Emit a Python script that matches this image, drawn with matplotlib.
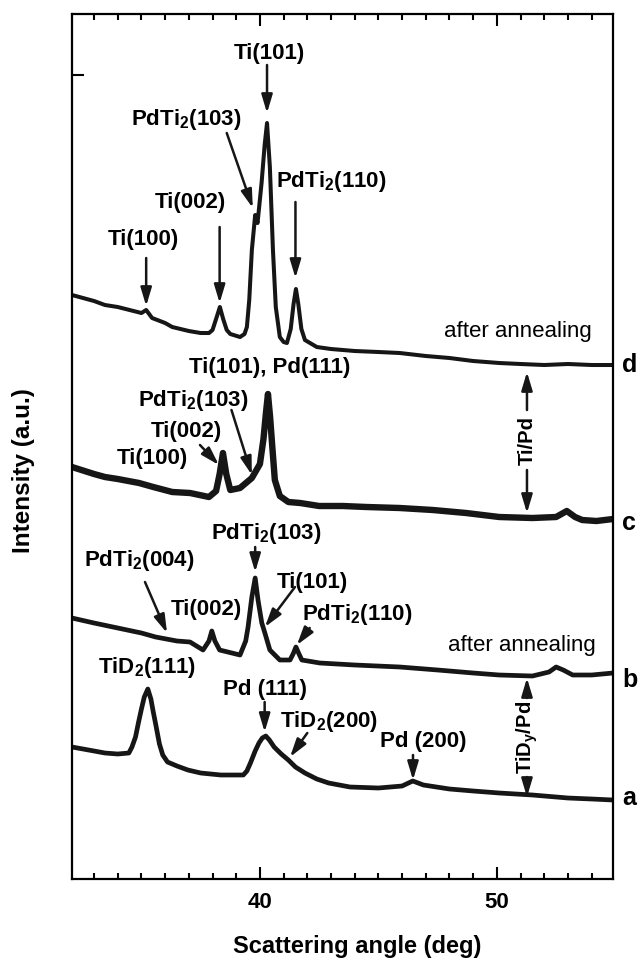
import matplotlib
matplotlib.use("Agg")
import matplotlib.pyplot as plt
from matplotlib.ticker import MultipleLocator

plt.rcParams['font.family'] = ['Liberation Sans', 'DejaVu Sans']
plt.rcParams['mathtext.fontset'] = 'custom'
plt.rcParams['mathtext.rm'] = 'Liberation Sans:bold'
plt.rcParams['mathtext.it'] = 'Liberation Sans:bold'
plt.rcParams['mathtext.bf'] = 'Liberation Sans:bold'
plt.rcParams['mathtext.default'] = 'rm'

# ---- data (scattering angle in deg, intensity in arbitrary offset units) ----
x_d = [32.07, 33.0, 33.46, 34.0, 34.5, 35.0, 35.2, 35.45, 36.0, 36.3, 37.0, 37.5, 37.85,
       38.0, 38.15, 38.31, 38.45, 38.6, 38.75, 39.16, 39.35, 39.45, 39.55, 39.66, 39.8, 39.9,
       40.07, 40.2, 40.3, 40.42, 40.55, 40.67, 40.84, 41.0, 41.14, 41.3, 41.42, 41.52, 41.62,
       41.75, 41.9, 42.4, 43.0, 44.0, 45.0, 45.9, 47.0, 48.0, 49.0, 50.1, 51.0, 52.0, 53.0,
       54.0, 54.9]
y_d = [584, 578, 574, 572, 569, 566, 569, 561, 556, 552, 548, 546, 546,
       549, 560, 572, 560, 549, 545, 542, 545, 552, 579, 629, 664, 656,
       696, 734, 756, 712, 629, 572, 542, 537, 536, 550, 575, 590, 575,
       550, 539, 532, 530, 528, 527, 526, 523, 521, 518, 516, 515, 514, 515,
       514, 514]

x_c = [32.07, 33.0, 33.46, 34.0, 34.9, 35.5, 36.3, 37.05, 37.85, 38.15, 38.3, 38.44, 38.58,
       38.75, 39.16, 39.66, 40.0, 40.15, 40.25, 40.34, 40.43, 40.52, 40.63, 40.84, 41.2, 41.7,
       42.5, 43.5, 44.5, 45.9, 47.3, 48.7, 50.1, 51.5, 52.5, 52.95, 53.3, 53.6, 54.2, 54.9]
y_c = [412, 405, 402, 400, 396, 392, 387, 386, 382, 388, 405, 426, 405,
       389, 391, 401, 415, 440, 465, 485, 462, 433, 399, 383, 377, 376,
       373, 373, 372, 371, 369, 366, 362, 361, 362, 368, 362, 359, 358, 360]

x_b = [32.07, 33.0, 34.0, 35.0, 35.6, 36.5, 37.05, 37.6, 37.85, 37.97, 38.1, 38.3, 39.16,
       39.4, 39.5, 39.66, 39.8, 39.92, 40.08, 40.21, 40.42, 40.84, 41.27, 41.4, 41.52, 41.65,
       41.77, 42.53, 44.0, 45.9, 47.5, 49.0, 50.1, 51.5, 52.2, 52.5, 52.8, 53.2, 54.0, 54.9]
y_b = [261, 256, 251, 246, 242, 238, 237, 229, 238, 248, 238, 229, 224,
       238, 252, 282, 301, 279, 256, 246, 229, 219, 219, 225, 232, 225,
       219, 216, 214, 212, 209, 206, 204, 203, 207, 212, 209, 204, 204, 206]

x_a = [32.07, 33.0, 33.46, 34.0, 34.47, 34.6, 34.75, 34.88, 35.0, 35.12, 35.27, 35.4, 35.5,
       35.6, 35.76, 35.9, 36.1, 36.5, 36.96, 37.5, 38.35, 39.3, 39.45, 39.6, 39.8, 39.96,
       40.1, 40.25, 40.4, 40.6, 40.9, 41.2, 41.5, 41.9, 42.4, 42.9, 43.8, 45.0, 46.0, 46.45,
       46.9, 48.0, 49.0, 50.1, 51.5, 53.0, 54.0, 54.9]
y_a = [132, 128, 126, 125, 126, 132, 142, 157, 170, 182, 190, 180, 167,
       155, 135, 124, 117, 113, 109, 106, 104, 104, 108, 116, 128, 136,
       141, 143, 139, 132, 125, 119, 112, 106, 100, 96, 92, 91, 93, 98,
       94, 90, 88, 86, 84, 81, 80, 79]

curve_names = ['a', 'b', 'c', 'd']

fig = plt.figure(figsize=(6.4, 9.58), dpi=100)
ax = fig.add_axes([0.1125, 0.08246, 0.8453, 0.90292])

lw_map = {'a': 3.4, 'b': 3.4, 'c': 4.6, 'd': 2.9}
for name, xs, ys in zip(curve_names, [x_a, x_b, x_c, x_d], [y_a, y_b, y_c, y_d]):
    ax.plot(xs, ys, color='#161616', lw=lw_map[name], solid_joinstyle='round',
            solid_capstyle='round')

ax.set_xlim(32.07, 54.9)
ax.set_ylim(0, 865)
ax.xaxis.set_major_locator(MultipleLocator(10))
ax.xaxis.set_minor_locator(MultipleLocator(1))
ax.set_yticks([804])
ax.set_yticklabels([''])
ax.tick_params(axis='x', which='major', direction='in', length=8.5, width=1.5,
               top=True, pad=9, labelsize=16)
ax.tick_params(axis='x', which='minor', direction='in', length=4, width=1.5, top=True)
ax.tick_params(axis='y', which='major', direction='in', length=8.5, width=1.5,
               right=False)
for lbl in ax.get_xticklabels():
    lbl.set_fontweight('bold')
for s in ax.spines.values():
    s.set_linewidth(1.6)

fig.text(357 / 640, 1 - 947 / 958, 'Scattering angle (deg)', ha='center', va='center',
         fontsize=17, fontweight='bold')
fig.text(24 / 640, 1 - 471 / 958, 'Intensity (a.u.)', ha='center', va='center',
         rotation=90, fontsize=17.5, fontweight='bold')

FS = 16
def lab(s, x, y, weight='bold', fs=FS):
    ax.text(x, y, s, ha='center', va='baseline', fontsize=fs, fontweight=weight)

def arr(x0, y0, x1, y1):
    ax.annotate('', xy=(x1, y1), xytext=(x0, y0),
                arrowprops=dict(arrowstyle='-|>,head_length=1.1,head_width=0.33',
                                mutation_scale=10, lw=1.8, color='#161616',
                                shrinkA=0, shrinkB=0))

# curve d
lab('Ti(101)', 40.4, 820); arr(40.3, 814, 40.3, 766)
lab('PdTi$_2$(103)', 36.9, 754); arr(38.6, 746, 39.7, 671)
lab('Ti(002)', 37.05, 671); arr(38.3, 652, 38.3, 576)
lab('Ti(100)', 35.1, 634); arr(35.2, 621, 35.2, 573)
lab('PdTi$_2$(110)', 43.0, 692); arr(41.5, 677, 41.5, 601)
lab('after annealing', 50.9, 542, weight='normal', fs=16)
# curve c
lab('Ti(101), Pd(111)', 40.4, 506)
lab('PdTi$_2$(103)', 37.2, 473); arr(38.8, 469, 39.66, 404)
lab('Ti(002)', 36.9, 442); arr(37.47, 434, 38.27, 414)
lab('Ti(100)', 35.45, 415)
# curve b
lab('PdTi$_2$(103)', 40.28, 340); arr(39.8, 332, 39.8, 307)
lab('PdTi$_2$(004)', 34.9, 313); arr(35.15, 297, 36.08, 246)
lab('Ti(002)', 37.76, 264)
lab('Ti(101)', 42.2, 291); arr(41.48, 292, 40.21, 252)
lab('PdTi$_2$(110)', 44.1, 259); arr(42.1, 251, 41.56, 234)
lab('after annealing', 51.07, 228, weight='normal', fs=16)
# curve a
lab('TiD$_2$(111)', 35.25, 206)
lab('Pd (111)', 40.2, 184); arr(40.2, 177, 40.2, 147)
lab('TiD$_2$(200)', 42.9, 152); arr(42.0, 146, 41.27, 122)
lab('Pd (200)', 46.9, 132); arr(46.46, 124, 46.46, 99)

# double arrows
xd = 51.27
arr(xd, 469, xd, 507); arr(xd, 409, xd, 366)
ax.text(xd, 439, 'Ti/Pd', rotation=90, ha='center', va='center', fontsize=14.5,
        fontweight='bold')
arr(xd, 181, xd, 201); arr(xd, 102, xd, 82)
ax.text(xd, 141.5, 'TiD$_y$/Pd', rotation=90, ha='center', va='center', fontsize=14.5,
        fontweight='bold')

# curve letters
for name, yv in zip(curve_names, [74, 192, 349, 507]):
    ax.text(55.28, yv, name, ha='left', va='baseline', fontsize=18, fontweight='bold',
            clip_on=False)

fig.savefig('out.png', dpi=100)
